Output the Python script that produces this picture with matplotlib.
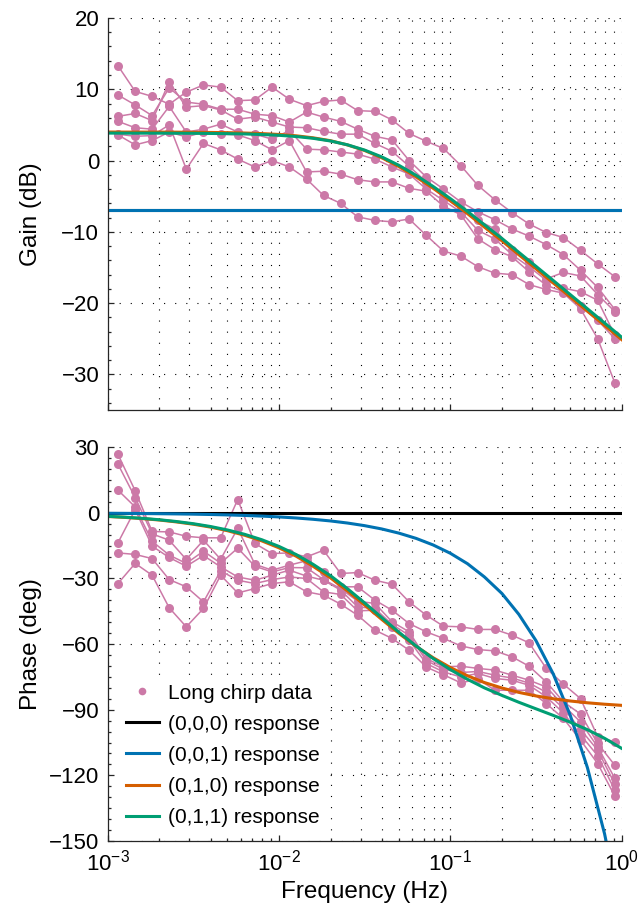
import matplotlib
matplotlib.use("Agg")
import matplotlib.pyplot as plt
from matplotlib.ticker import LogLocator, MultipleLocator, NullFormatter

plt.rcParams["font.family"] = ["Liberation Sans", "DejaVu Sans"]
plt.rcParams["mathtext.fontset"] = "custom"
plt.rcParams["mathtext.rm"] = "Liberation Sans"
plt.rcParams["mathtext.it"] = "Liberation Sans:italic"
plt.rcParams["mathtext.default"] = "regular"

# long chirp test: frequency points (Hz) and six repeated runs
chirp_freq = [0.00115, 0.00145, 0.00182, 0.00229, 0.00288, 0.00363, 0.00457,
              0.00575, 0.00724, 0.00912, 0.0115, 0.0145, 0.0182, 0.0229,
              0.0288, 0.0363, 0.0457, 0.0575, 0.0724, 0.0912, 0.115, 0.145,
              0.182, 0.229, 0.288, 0.363, 0.457, 0.575, 0.724, 0.912]

gain_run1 = [13.3, 9.7, 9.0, 7.9, 9.6, 10.6, 10.3, 8.4, 8.5, 10.3, 8.6, 7.7, 8.3, 8.5, 7.0,
             6.9, 5.7, 3.8, 2.7, 1.7, -0.7, -3.5, -5.5, -7.3, -8.9, -10.1, -10.8, -12.6, -14.5, -16.3]
gain_run2 = [9.2, 7.8, 6.3, 10.2, 8.2, 7.9, 7.2, 7.2, 6.5, 6.3, 5.4, 6.8, 6.1, 5.5, 4.4,
             3.4, 2.9, 0.0, -2.3, -4.0, -5.8, -7.2, -8.3, -9.6, -10.6, -11.8, -13.2, -15.4, -17.8, -20.9]
gain_run3 = [6.2, 6.6, 5.6, 11.0, 7.5, 7.7, 7.1, 5.8, 6.1, 5.4, 4.7, 4.6, 4.1, 3.7, 3.7,
             2.4, 1.3, -0.8, -3.0, -5.1, -6.8, -8.4, -9.6, -12.6, -14.2, -16.6, -15.7, -16.2, -18.8, -21.2]
gain_run4 = [5.5, 4.6, 4.4, 7.6, 4.0, 4.4, 5.1, 4.0, 3.7, 3.0, 4.2, 1.6, 1.5, 1.2, 0.9,
             0.2, -0.9, -1.9, -4.0, -5.6, -7.2, -9.8, -11.0, -13.2, -14.9, -16.8, -17.9, -18.4, -19.6, -24.5]
gain_run5 = [3.6, 2.2, 2.8, 4.0, 3.3, 4.0, 3.7, 3.6, 2.8, 1.5, 2.8, -1.6, -1.5, -1.9, -2.7,
             -3.0, -3.0, -3.9, -4.3, -6.4, -7.6, -11.0, -12.5, -13.5, -15.6, -17.5, -18.4, -20.4, -22.4, -25.0]
gain_run6 = [3.7, 3.4, 3.5, 5.0, -1.2, 2.4, 1.5, 0.2, -0.9, 0.0, -0.9, -2.6, -4.9, -6.0, -7.9,
             -8.4, -8.6, -8.2, -10.5, -12.7, -13.4, -14.9, -15.8, -16.0, -17.4, -18.1, -18.6, -20.8, -25.0, -31.2]

phase_run1 = [26.8, 10.1, -8.5, -8.7, -10.7, -11.4, -11.4, 6.1, -14.0, -18.6, -18.3, -20.1, -17.1, -27.7, -27.3,
              -30.8, -32.6, -40.7, -46.8, -51.8, -52.1, -53.3, -53.3, -55.9, -59.4, -71.1, -78.3, -84.9, -102.4, -104.7]
phase_run2 = [22.3, 7.0, -9.6, -12.5, -21.3, -12.5, -21.2, -7.1, -23.5, -26.2, -23.9, -21.9, -27.0, -33.8, -33.8,
              -39.9, -44.5, -50.6, -54.4, -57.4, -60.8, -62.5, -63.1, -65.8, -70.1, -77.3, -86.4, -92.0, -105.4, -115.4]
phase_run3 = [10.4, 2.7, -13.0, -19.3, -23.1, -17.5, -23.0, -16.1, -24.4, -27.0, -25.0, -25.1, -30.5, -34.6, -40.4,
              -41.4, -49.8, -54.4, -66.6, -70.4, -70.1, -71.1, -71.9, -74.2, -76.5, -79.6, -88.0, -95.6, -107.0, -121.4]
phase_run4 = [-13.7, 1.5, -15.2, -20.4, -24.4, -19.5, -24.7, -29.3, -30.8, -28.5, -26.2, -28.9, -30.8, -35.3, -43.0,
              -43.7, -51.0, -56.0, -67.5, -71.5, -73.0, -72.5, -74.2, -75.5, -77.8, -82.0, -89.4, -99.0, -108.5, -124.0]
phase_run5 = [-18.3, -19.0, -20.9, -30.5, -33.8, -40.7, -26.5, -30.8, -32.3, -30.5, -29.3, -30.0, -36.1, -37.3, -44.8,
              -44.5, -52.1, -58.2, -68.9, -72.7, -75.0, -73.4, -75.7, -76.5, -78.8, -84.1, -91.5, -101.5, -111.0, -126.8]
phase_run6 = [-32.3, -23.1, -28.5, -43.4, -52.1, -43.7, -28.5, -36.6, -34.6, -32.3, -31.5, -36.1, -37.6, -41.7, -46.8,
              -53.6, -57.4, -62.8, -70.5, -74.0, -77.7, -76.0, -81.1, -81.1, -81.1, -87.2, -94.0, -103.9, -114.6, -129.5]

gain_runs = [gain_run1, gain_run2, gain_run3, gain_run4, gain_run5, gain_run6]
phase_runs = [phase_run1, phase_run2, phase_run3, phase_run4, phase_run5, phase_run6]

# fitted model responses
model_freq = [0.001, 0.00126, 0.00158, 0.002, 0.00251, 0.00316, 0.00398, 0.00501, 0.00631, 0.00794,
              0.01, 0.0126, 0.0158, 0.02, 0.0251, 0.0316, 0.0398, 0.0501, 0.0631, 0.0794,
              0.1, 0.126, 0.158, 0.2, 0.251, 0.316, 0.398, 0.501, 0.631, 0.794, 1.0]
flat_freq = [0.001, 1.0]

gain_000 = [-7.0, -7.0]
gain_001 = [-7.0, -7.0]
gain_010 = [4.00, 3.99, 3.99, 3.99, 3.98, 3.96, 3.94, 3.91, 3.86, 3.78,
            3.66, 3.47, 3.19, 2.78, 2.19, 1.41, 0.39, -0.85, -2.29, -3.89,
            -5.63, -7.45, -9.33, -11.26, -13.21, -15.18, -17.16, -19.14, -21.14, -23.13, -25.13]
gain_011 = [3.85, 3.84, 3.84, 3.84, 3.83, 3.82, 3.80, 3.77, 3.73, 3.65,
            3.54, 3.37, 3.12, 2.74, 2.21, 1.47, 0.51, -0.67, -2.07, -3.64,
            -5.34, -7.14, -9.01, -10.93, -12.88, -14.84, -16.82, -18.81, -20.80, -22.79, -24.79]

phase_000 = [0.0, 0.0]
phase_001 = [-0.18, -0.23, -0.29, -0.37, -0.46, -0.58, -0.74, -0.93, -1.17, -1.47,
             -1.85, -2.33, -2.93, -3.69, -4.64, -5.84, -7.35, -9.26, -11.65, -14.67,
             -18.47, -23.25, -29.27, -36.85, -46.39, -58.40, -73.53, -92.57, -116.5, -146.7, -184.7]
phase_010 = [-1.64, -2.06, -2.59, -3.26, -4.11, -5.17, -6.49, -8.16, -10.23, -12.79,
             -15.96, -19.80, -24.38, -29.71, -35.69, -42.12, -48.70, -55.09, -61.00, -66.23,
             -70.72, -74.48, -77.56, -80.06, -82.07, -83.69, -84.98, -86.01, -86.83, -87.48, -88.00]
phase_011 = [-1.57, -1.97, -2.48, -3.13, -3.93, -4.94, -6.22, -7.81, -9.80, -12.27,
             -15.32, -19.04, -23.49, -28.73, -34.66, -41.14, -47.88, -54.55, -60.86, -66.59,
             -71.67, -76.11, -80.00, -83.44, -86.59, -89.58, -92.57, -95.70, -99.13, -103.06, -107.68]

DATA_COLOR = "#CC79A7"
AXIS_COLOR = "#262626"
GRID_STYLE = dict(color="black", linestyle=(0, (1, 9)), linewidth=0.8)


def style_axes(ax, ylim, major, minor):
    ax.set_xscale("log")
    ax.set_xlim(1e-3, 1.0)
    ax.set_ylim(*ylim)
    ax.xaxis.set_major_locator(LogLocator(base=10, numticks=10))
    ax.xaxis.set_minor_locator(LogLocator(base=10, subs=range(2, 10), numticks=10))
    ax.xaxis.set_minor_formatter(NullFormatter())
    ax.yaxis.set_major_locator(MultipleLocator(major))
    ax.yaxis.set_minor_locator(MultipleLocator(minor))
    for side in ("top", "right"):
        ax.spines[side].set_visible(False)
    for side in ("left", "bottom"):
        ax.spines[side].set_color(AXIS_COLOR)
        ax.spines[side].set_linewidth(0.9)
    ax.tick_params(which="both", direction="in", colors=AXIS_COLOR, labelcolor="black",
                   labelsize=16, width=0.9)
    ax.tick_params(which="major", length=4.5, pad=6)
    ax.tick_params(which="minor", length=2.5)
    ax.set_axisbelow(True)
    ax.grid(True, which="major", axis="both", **GRID_STYLE)
    ax.grid(True, which="minor", axis="x", **GRID_STYLE)


fig = plt.figure(figsize=(6.42, 9.22), dpi=100)
ax_gain = fig.add_axes([0.1675, 0.5553, 0.8009, 0.4252])
ax_phase = fig.add_axes([0.1675, 0.0879, 0.8009, 0.4270])

# gain
for values in gain_runs:
    ax_gain.plot(chirp_freq, values, color=DATA_COLOR, linewidth=1.1,
                 marker="o", markersize=6.5, markeredgewidth=0)
ax_gain.plot(flat_freq, gain_000, color="black", linewidth=2.2)
ax_gain.plot(flat_freq, gain_001, color="#0072B2", linewidth=2.2)
ax_gain.plot(model_freq, gain_010, color="#D55E00", linewidth=2.2)
ax_gain.plot(model_freq, gain_011, color="#009E73", linewidth=2.2)
style_axes(ax_gain, (-35, 20), 10, 2)
ax_gain.tick_params(axis="x", labelbottom=False)
ax_gain.set_ylabel("Gain (dB)", fontsize=17.5)
ax_gain.yaxis.set_label_coords(-0.128, 0.5)

# phase
for i, values in enumerate(phase_runs):
    ax_phase.plot(chirp_freq, values, color=DATA_COLOR, linewidth=1.1,
                  marker="o", markersize=6.5, markeredgewidth=0,
                  label="Long chirp data" if i == 0 else None)
ax_phase.plot(flat_freq, phase_000, color="black", linewidth=2.2, label="(0,0,0) response")
ax_phase.plot(model_freq, phase_001, color="#0072B2", linewidth=2.2, label="(0,0,1) response")
ax_phase.plot(model_freq, phase_010, color="#D55E00", linewidth=2.2, label="(0,1,0) response")
ax_phase.plot(model_freq, phase_011, color="#009E73", linewidth=2.2, label="(0,1,1) response")
style_axes(ax_phase, (-150, 30), 30, 5)
ax_phase.set_ylabel("Phase (deg)", fontsize=17.5)
ax_phase.yaxis.set_label_coords(-0.128, 0.5)
ax_phase.set_xlabel("Frequency (Hz)", fontsize=17.5, labelpad=4)

handles, labels = ax_phase.get_legend_handles_labels()
handles[0] = plt.Line2D([], [], color=DATA_COLOR, linestyle="none", marker="o",
                        markersize=5.5, markeredgewidth=0)
leg = ax_phase.legend(handles, labels, loc="lower left", bbox_to_anchor=(0.0, -0.012),
                      fontsize=15, frameon=True, facecolor="white", edgecolor="none",
                      framealpha=1.0, fancybox=False, handlelength=1.55, handletextpad=0.45,
                      labelspacing=0.58, borderpad=0.4, numpoints=1)

fig.savefig("out.png", dpi=100)
